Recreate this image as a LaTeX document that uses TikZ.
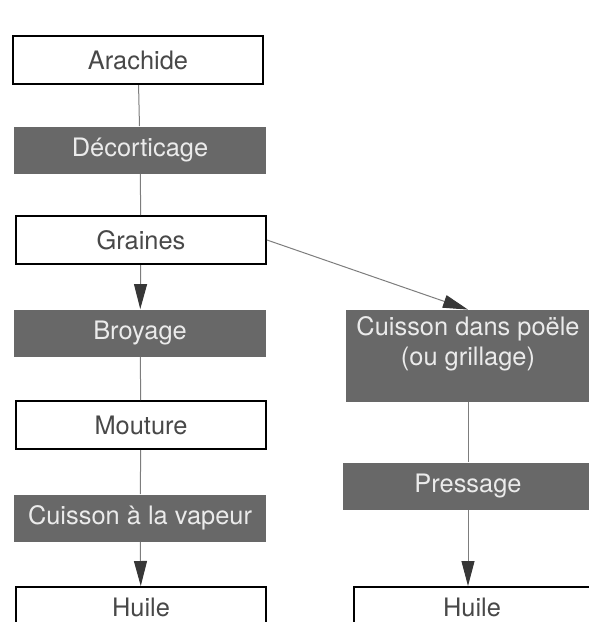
\documentclass[tikz,border=0pt]{standalone}
\usepackage{fontspec}
\setmainfont{TeX Gyre Heros}
\usetikzlibrary{arrows.meta}
\definecolor{GrisEtape}{RGB}{104,104,104}
\definecolor{GrisTexte}{RGB}{72,72,72}
\definecolor{GrisTrait}{RGB}{125,125,125}
\definecolor{GrisFleche}{RGB}{55,55,55}

\begin{document}
\begin{tikzpicture}[x=0.5pt,y=-0.5pt,
  font=\fontsize{12.7}{15}\selectfont,
  produit/.style={draw=black,line width=1pt,fill=white,text=GrisTexte,
    minimum width=125pt,minimum height=24pt,inner sep=0pt},
  operation/.style={fill=GrisEtape,text=white!92!black,align=center,
    minimum width=126pt,minimum height=23.5pt,inner sep=0pt},
  bas/.style={minimum height=20pt},
  lien/.style={GrisTrait,line width=0.5pt},
  fleche/.style={lien,-{Triangle[length=12.5pt,width=6.5pt,color=GrisFleche]}}]
  \useasboundingbox (0,0) rectangle (589,622);
  \clip (0,0) rectangle (589,622);

  % colonne de gauche
  \node[produit]   (arachide) at (138,60)  {Arachide};
  \node[operation] (decort)   at (140,150) {Décorticage};
  \node[produit]   (graines)  at (141,240) {Graines};
  \node[operation] (broyage)  at (140,333) {Broyage};
  \node[produit]   (mouture)  at (141,425) {Mouture};
  \node[operation] (vapeur)   at (140,518) {Cuisson à la vapeur};
  \node[produit,bas] (huileG) at (141,607) {Huile};

  % colonne de droite
  \node[operation,minimum width=122pt,minimum height=46pt] (poele) at (468,356)
    {Cuisson dans poële\\(ou grillage)\\\mbox{}};
  \node[operation,minimum width=125pt] (pressage) at (468,486) {Pressage};
  \node[produit,bas,minimum width=118pt] (huileD) at (472,607) {Huile};

  \draw[lien] (arachide) -- (decort);
  \draw[lien] (decort) -- (graines);
  \draw[fleche] (graines) -- (broyage);
  \draw[lien] (broyage) -- (mouture);
  \draw[lien] (mouture) -- (vapeur);
  \draw[fleche] (vapeur) -- (huileG);

  \draw[fleche] (graines.east) -- (poele.north);
  \draw[lien] (poele) -- (pressage);
  \draw[fleche] (pressage.south) -- (pressage.south |- huileD.north);
\end{tikzpicture}
\end{document}
